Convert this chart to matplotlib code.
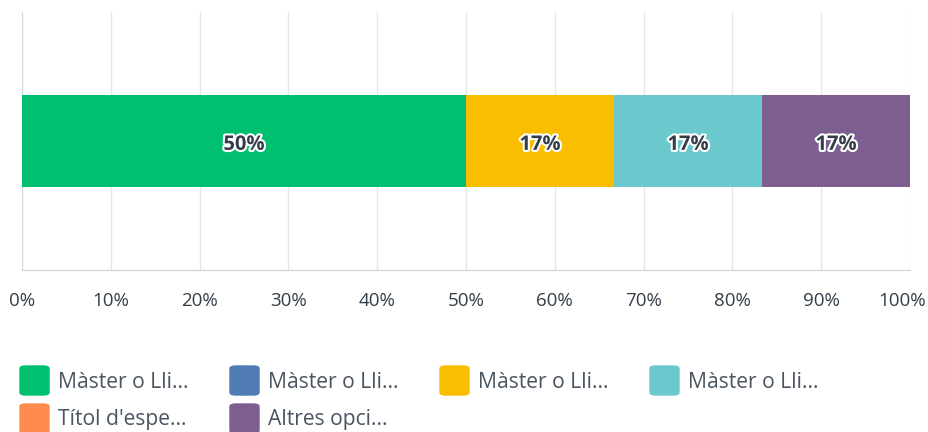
import matplotlib.pyplot as plt
import matplotlib.patheffects as pe
import matplotlib.transforms as mtrans
from matplotlib.patches import FancyBboxPatch

plt.rcParams['font.family'] = ['Open Sans', 'DejaVu Sans']

# data
labels = ["Màster o Lli...", "Màster o Lli...", "Màster o Lli...", "Màster o Lli...",
          "Títol d'espe...", "Altres opci..."]
values = [50.0, 0.0, 16.67, 16.67, 0.0, 16.67]
colors = ['#00BF6F', '#507CB6', '#F9BE00', '#6BC8CD', '#FF8B4F', '#7D5E90']
ticks = [0, 10, 20, 30, 40, 50, 60, 70, 80, 90, 100]

W, H = 929, 432
fig = plt.figure(figsize=(W / 100, H / 100), dpi=100)
ax = fig.add_axes([22 / W, 1 - 270 / H, (910 - 22) / W, (270 - 12) / H])

left = 0
for v, c in zip(values, colors):
    ax.barh(0.5, v, left=left, height=0.353, color=c, zorder=3)
    if v > 0:
        t = ax.text(left + v / 2, 0.485, f"{round(v)}%", ha='center', va='center',
                    fontsize=14.5, fontweight='bold', color='#333e48', zorder=4)
        t.set_path_effects([pe.withStroke(linewidth=3, foreground='white')])
    left += v

ax.set_xlim(0, 100)
ax.set_ylim(0, 1)
ax.set_xticks(ticks)
ax.set_xticklabels([f"{t}%" for t in ticks])
ax.set_yticks([])
ax.grid(axis='x', color='#e6e6e6', linewidth=1, zorder=0)
ax.tick_params(axis='x', length=0, pad=16, labelsize=13.5, labelcolor='#333e48')
for s in ['top', 'right']:
    ax.spines[s].set_visible(False)
ax.spines['left'].set_color('#d9d9d9')
ax.spines['bottom'].set_color('#d0d0d0')

# keep the 100% label inside the figure, like the original
last = ax.get_xticklabels()[-1]
last.set_transform(last.get_transform() + mtrans.ScaledTranslation(-8 / 100, 0, fig.dpi_scale_trans))

# legend, laid out in rows of four
for i, (lab, c) in enumerate(zip(labels, colors)):
    r, k = divmod(i, 4)
    x0 = 20 + 210 * k
    y0 = 366 + 38 * r
    box = FancyBboxPatch((x0 / W, 1 - (y0 + 29) / H), 29 / W, 29 / H,
                         boxstyle="round,pad=0,rounding_size=0.006",
                         transform=fig.transFigure, color=c)
    fig.patches.append(box)
    fig.text((x0 + 38) / W, 1 - (y0 + 16) / H, lab, ha='left', va='center',
             fontsize=15.2, color='#4a5560')

fig.savefig('out.png', dpi=100)
